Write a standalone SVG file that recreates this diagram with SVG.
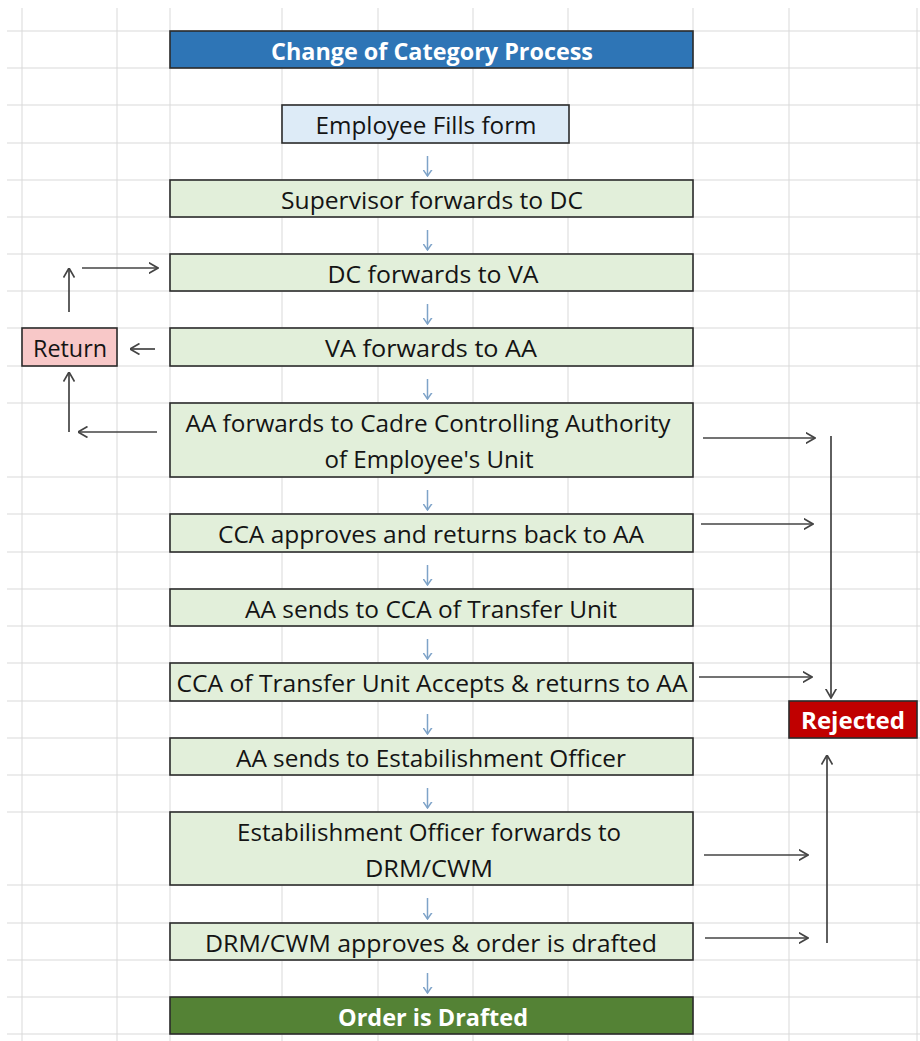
<svg xmlns="http://www.w3.org/2000/svg" width="920" height="1041" viewBox="0 0 920 1041">
<style>
.grid line{stroke:#d9d9d9;stroke-width:1}
.box{stroke:#2b2b2b;stroke-width:1.6}
.g{fill:#e2efda}
.t{font-family:"Open Sans","Noto Sans",sans-serif;font-size:23px;fill:#141414;text-anchor:middle}
.b{font-weight:bold;fill:#ffffff}
.arr{stroke:#444;stroke-width:1.7;fill:none;marker-end:url(#ah)}
.down{stroke:#7ea3c8;stroke-width:1.5;fill:none;marker-end:url(#bh)}
</style>
<defs>
<marker id="ah" viewBox="0 0 10 12" refX="9.5" refY="6" markerWidth="10" markerHeight="12" markerUnits="userSpaceOnUse" orient="auto">
<path d="M0,0.5 L9.5,6 L0,11.5" fill="none" stroke="#444" stroke-width="1.7"/>
</marker>
<marker id="bh" viewBox="0 0 7 10" refX="6.5" refY="5" markerWidth="7" markerHeight="10" markerUnits="userSpaceOnUse" orient="auto">
<path d="M0,0.5 L6.5,5 L0,9.5" fill="none" stroke="#7ea3c8" stroke-width="1.5"/>
</marker>
</defs>
<rect width="920" height="1041" fill="#ffffff"/>
<g class="grid">
<line x1="22" y1="8" x2="22" y2="1041"/><line x1="117" y1="8" x2="117" y2="1041"/><line x1="170" y1="8" x2="170" y2="1041"/><line x1="282" y1="8" x2="282" y2="1041"/><line x1="378" y1="8" x2="378" y2="1041"/><line x1="473" y1="8" x2="473" y2="1041"/><line x1="568" y1="8" x2="568" y2="1041"/><line x1="693" y1="8" x2="693" y2="1041"/><line x1="789" y1="8" x2="789" y2="1041"/><line x1="917" y1="8" x2="917" y2="1041"/>
<line x1="7" y1="31" x2="920" y2="31"/><line x1="7" y1="68" x2="920" y2="68"/><line x1="7" y1="105" x2="920" y2="105"/><line x1="7" y1="143" x2="920" y2="143"/><line x1="7" y1="180" x2="920" y2="180"/><line x1="7" y1="217" x2="920" y2="217"/><line x1="7" y1="254" x2="920" y2="254"/><line x1="7" y1="291" x2="920" y2="291"/><line x1="7" y1="328" x2="920" y2="328"/><line x1="7" y1="366" x2="920" y2="366"/><line x1="7" y1="403" x2="920" y2="403"/><line x1="7" y1="477" x2="920" y2="477"/><line x1="7" y1="514" x2="920" y2="514"/><line x1="7" y1="552" x2="920" y2="552"/><line x1="7" y1="589" x2="920" y2="589"/><line x1="7" y1="626" x2="920" y2="626"/><line x1="7" y1="663" x2="920" y2="663"/><line x1="7" y1="701" x2="920" y2="701"/><line x1="7" y1="738" x2="920" y2="738"/><line x1="7" y1="775" x2="920" y2="775"/><line x1="7" y1="812" x2="920" y2="812"/><line x1="7" y1="885" x2="920" y2="885"/><line x1="7" y1="923" x2="920" y2="923"/><line x1="7" y1="960" x2="920" y2="960"/><line x1="7" y1="997" x2="920" y2="997"/><line x1="7" y1="1034" x2="920" y2="1034"/>
</g>
<g id="title"><rect class="box" x="170" y="31" width="523" height="37" fill="#2e75b6"/><text class="t b" x="432" y="60" textLength="322" lengthAdjust="spacingAndGlyphs">Change of Category Process</text></g>
<g id="n-employee"><rect class="box" x="282" y="105" width="287" height="38" fill="#ddebf7"/><text class="t" x="426" y="134" textLength="221" lengthAdjust="spacingAndGlyphs">Employee Fills form</text></g>
<g id="n-supervisor"><rect class="box g" x="170" y="180" width="523" height="37"/><text class="t" x="432" y="209" textLength="302" lengthAdjust="spacingAndGlyphs">Supervisor forwards to DC</text></g>
<g id="n-dc"><rect class="box g" x="170" y="254" width="523" height="37"/><text class="t" x="433" y="283" textLength="211" lengthAdjust="spacingAndGlyphs">DC forwards to VA</text></g>
<g id="n-va"><rect class="box g" x="170" y="328" width="523" height="38"/><text class="t" x="431" y="357" textLength="212" lengthAdjust="spacingAndGlyphs">VA forwards to AA</text></g>
<g id="n-return"><rect class="box" x="22" y="328" width="95" height="38" fill="#f8c8c8"/><text class="t" x="70" y="357" textLength="74" lengthAdjust="spacingAndGlyphs">Return</text></g>
<g id="n-aa-cca"><rect class="box g" x="170" y="403" width="523" height="74"/><text class="t" x="428" y="432" textLength="485" lengthAdjust="spacingAndGlyphs">AA forwards to Cadre Controlling Authority</text><text class="t" x="429" y="468" textLength="209" lengthAdjust="spacingAndGlyphs">of Employee's Unit</text></g>
<g id="n-cca-approves"><rect class="box g" x="170" y="514" width="523" height="38"/><text class="t" x="431" y="543" textLength="426" lengthAdjust="spacingAndGlyphs">CCA approves and returns back to AA</text></g>
<g id="n-aa-transfer"><rect class="box g" x="170" y="589" width="523" height="37"/><text class="t" x="431" y="618" textLength="372" lengthAdjust="spacingAndGlyphs">AA sends to CCA of Transfer Unit</text></g>
<g id="n-cca-transfer"><rect class="box g" x="170" y="663" width="523" height="38"/><text class="t" x="432" y="692" textLength="511" lengthAdjust="spacingAndGlyphs">CCA of Transfer Unit Accepts &amp; returns to AA</text></g>
<g id="n-rejected"><rect class="box" x="789" y="701" width="128" height="37" fill="#c00000" stroke="#c00000"/><text class="t b" x="853" y="729" textLength="104" lengthAdjust="spacingAndGlyphs">Rejected</text></g>
<g id="n-aa-eo"><rect class="box g" x="170" y="738" width="523" height="37"/><text class="t" x="431" y="767" textLength="390" lengthAdjust="spacingAndGlyphs">AA sends to Estabilishment Officer</text></g>
<g id="n-eo"><rect class="box g" x="170" y="812" width="523" height="73"/><text class="t" x="429" y="841" textLength="384" lengthAdjust="spacingAndGlyphs">Estabilishment Officer forwards to</text><text class="t" x="429" y="877" textLength="128" lengthAdjust="spacingAndGlyphs">DRM/CWM</text></g>
<g id="n-drm"><rect class="box g" x="170" y="923" width="523" height="37"/><text class="t" x="431" y="952" textLength="452" lengthAdjust="spacingAndGlyphs">DRM/CWM approves &amp; order is drafted</text></g>
<g id="n-order"><rect class="box" x="170" y="997" width="523" height="37" fill="#548235"/><text class="t b" x="433" y="1026" textLength="190" lengthAdjust="spacingAndGlyphs">Order is Drafted</text></g>
<g id="connectors">
<line class="down" x1="427.5" y1="156" x2="427.5" y2="176"/>
<line class="down" x1="427.5" y1="230" x2="427.5" y2="250"/>
<line class="down" x1="427.5" y1="304" x2="427.5" y2="324"/>
<line class="down" x1="427.5" y1="379" x2="427.5" y2="399"/>
<line class="down" x1="427.5" y1="490" x2="427.5" y2="510"/>
<line class="down" x1="427.5" y1="565" x2="427.5" y2="585"/>
<line class="down" x1="427.5" y1="639" x2="427.5" y2="659"/>
<line class="down" x1="427.5" y1="714" x2="427.5" y2="734"/>
<line class="down" x1="427.5" y1="788" x2="427.5" y2="808"/>
<line class="down" x1="427.5" y1="898" x2="427.5" y2="919"/>
<line class="down" x1="427.5" y1="973" x2="427.5" y2="993"/>
<line class="arr" x1="155" y1="349" x2="130" y2="349"/>
<line class="arr" x1="69" y1="312" x2="69" y2="268"/>
<line class="arr" x1="82" y1="268" x2="158" y2="268"/>
<line class="arr" x1="157" y1="432" x2="78" y2="432"/>
<line class="arr" x1="69" y1="432" x2="69" y2="372"/>
<line class="arr" x1="703" y1="438" x2="815" y2="438"/>
<line class="arr" x1="831" y1="436" x2="831" y2="698"/>
<line class="arr" x1="701" y1="524" x2="813" y2="524"/>
<line class="arr" x1="699" y1="677" x2="812" y2="677"/>
<line class="arr" x1="704" y1="855" x2="808" y2="855"/>
<line class="arr" x1="705" y1="938" x2="808" y2="938"/>
<line class="arr" x1="827" y1="943" x2="827" y2="755"/>
</g>
</svg>
